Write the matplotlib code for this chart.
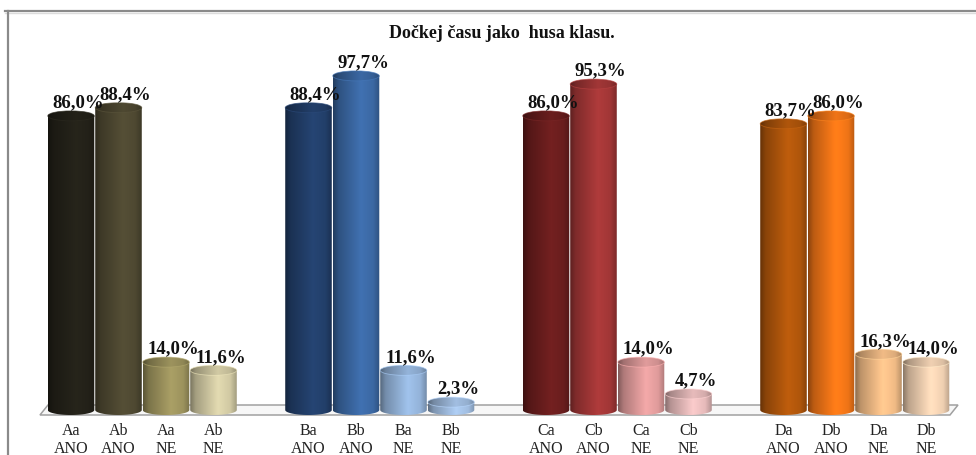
import numpy as np
import matplotlib
matplotlib.use("Agg")
import matplotlib.pyplot as plt
from matplotlib.patches import Ellipse, PathPatch, Polygon
from matplotlib.path import Path
from matplotlib.lines import Line2D
from matplotlib.colors import to_rgb

title = "Dočkej času jako  husa klasu."
groups = ["A", "B", "C", "D"]
categories = ["Aa\nANO", "Ab\nANO", "Aa\nNE", "Ab\nNE",
              "Ba\nANO", "Bb\nANO", "Ba\nNE", "Bb\nNE",
              "Ca\nANO", "Cb\nANO", "Ca\nNE", "Cb\nNE",
              "Da\nANO", "Db\nANO", "Da\nNE", "Db\nNE"]
values = [86.0, 88.4, 14.0, 11.6,
          88.4, 97.7, 11.6, 2.3,
          86.0, 95.3, 14.0, 4.7,
          83.7, 86.0, 16.3, 14.0]
colors = ["#25231a", "#524c34", "#a49a62", "#dbd3ab",
          "#24426f", "#3e6dab", "#9bbce4", "#a9c7ec",
          "#6f1f1f", "#a93939", "#eba3a3", "#f2c4c4",
          "#b85a0c", "#fb7a18", "#fcc48c", "#fbdaba"]

serif = ["Liberation Serif", "DejaVu Serif"]

fig = plt.figure(figsize=(9.76, 4.56), dpi=100)
ax = fig.add_axes([0, 0, 1, 1])
ax.axis("off")

W, H = 976, 456
slot_px = 47.5
x0_px = 71.0
base_px = 411.0
ppu = 3.42          # pixels per percent
eh = 5.0 / ppu      # half height of the cylinder ellipses
bw = 0.98           # bar width in slots

positions = [g * 5 + j for g in range(len(groups)) for j in range(4)]

# floor of the 3d chart
dx = 8 / slot_px
floor = Polygon([(-0.653, -eh), (18.505, -eh), (18.505 + dx, eh), (-0.653 + dx, eh)],
                closed=True, facecolor="#f7f7f7", edgecolor="#a0a0a0", lw=1.1, zorder=1)
ax.add_patch(floor)

t = np.linspace(0, 1, 200)
shade = np.interp(t, [0, 0.12, 0.6, 0.86, 1.0], [0.55, 0.75, 1.04, 0.95, 0.74])


def gradient(col, k=1.0):
    rgb = np.array(to_rgb(col))
    img = np.clip(rgb[None, :] * shade[:, None] * k, 0, 1)
    return img[None, :, :]


for x, v, c in zip(positions, values, colors):
    l, r = x - bw / 2, x + bw / 2
    # body: rectangle with a rounded (elliptical) bottom
    ang = np.linspace(np.pi, 2 * np.pi, 40)
    bottom = np.column_stack([x + bw / 2 * np.cos(ang), eh * np.sin(ang)])
    verts = np.vstack([[l, v], bottom, [r, v], [l, v]])
    body = PathPatch(Path(verts), facecolor="none", edgecolor="none", zorder=2)
    ax.add_patch(body)
    im = ax.imshow(gradient(c), extent=[l, r, -eh - 1, v], aspect="auto",
                   interpolation="bilinear", zorder=2)
    im.set_clip_path(body)

    # top cap
    cap = Ellipse((x, v), bw, 2 * eh, facecolor="none", edgecolor="none", zorder=3)
    ax.add_patch(cap)
    im2 = ax.imshow(gradient(c, 0.92), extent=[l, r, v - eh, v + eh], aspect="auto",
                    interpolation="bilinear", zorder=3)
    im2.set_clip_path(cap)
    rim = Ellipse((x, v), bw, 2 * eh, facecolor="none",
                  edgecolor=np.clip(np.array(to_rgb(c)) * 1.05 + 0.02, 0, 1),
                  lw=0.6, alpha=0.7, zorder=4)
    ax.add_patch(rim)

    lab = f"{v:.1f}%".replace(".", ",")
    ax.text(x + 0.15, v + eh + 1.3, lab, ha="center", va="baseline",
            fontsize=13.5, fontweight="bold", family=serif, color="#111111", zorder=5)

for x, cat in zip(positions, categories):
    ax.text(x, -(423 - base_px) / ppu, cat, ha="center", va="top", fontsize=11.5,
            family=serif, color="#222222", linespacing=1.2)

ax.set_xlim(-x0_px / slot_px, (W - x0_px) / slot_px)
ax.set_ylim(-(H - base_px) / ppu, base_px / ppu)

fig.text(502 / W, 1 - 33 / H, title, ha="center", va="center", fontsize=13,
         fontweight="bold", family=serif, color="#111111")

# outer frame (top and left edges)
fig.add_artist(Line2D([5 / W, 1], [1 - 11.5 / H] * 2, transform=fig.transFigure,
                      color="#8a8a8a", lw=1.6))
fig.add_artist(Line2D([5 / W, 1], [1 - 13.5 / H] * 2, transform=fig.transFigure,
                      color="#dcdcdc", lw=1.0))
fig.add_artist(Line2D([8 / W] * 2, [0, 1 - 11.5 / H], transform=fig.transFigure,
                      color="#8a8a8a", lw=1.6))

fig.savefig("out.png", dpi=100)
